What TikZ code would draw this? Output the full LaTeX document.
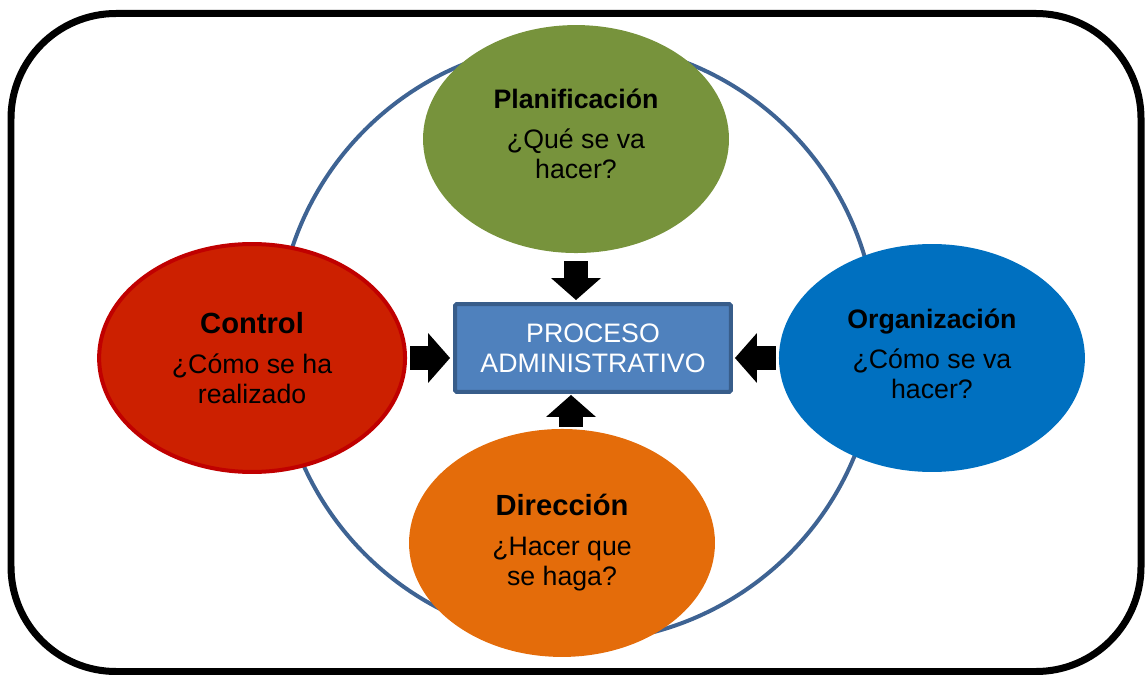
\documentclass[tikz,border=0pt]{standalone}
\usepackage{fontspec}
\setmainfont{Liberation Sans}
\usetikzlibrary{arrows.meta, positioning, shapes.geometric}
\definecolor{planGreen}{HTML}{77933C}
\definecolor{ctrlRed}{HTML}{CC2000}
\definecolor{ctrlBorder}{HTML}{C00000}
\definecolor{orgBlue}{HTML}{0070C0}
\definecolor{dirOrange}{HTML}{E46C0A}
\definecolor{procFill}{HTML}{4F81BD}
\definecolor{procBorder}{HTML}{385D8A}
\definecolor{ringBlue}{HTML}{3E6393}
\newcommand{\bigtitle}[1]{{\fontsize{16.6}{17}\selectfont\textbf{#1}}}
\tikzset{
        every node/.style={font=\fontsize{15.2}{17}\selectfont, align=center}, % same text size everywhere
        phase/.style={ellipse, minimum width=6.12cm, minimum height=4.56cm, inner sep=0pt}, % the four stages
        procbox/.style={draw=procBorder, fill=procFill, line width=0.08cm, text=white,
                        minimum width=5.52cm, minimum height=1.76cm, rounded corners=1pt},
        blockarrow/.style={black, line width=0.48cm,
                        -{Triangle[width=1.0cm, length=0.44cm, line width=0pt]}}, % fat black arrows
        ring/.style={draw=ringBlue, line width=0.08cm},
        frame/.style={draw=black, line width=0.14cm, rounded corners=2.1cm},
    }
\begin{document}
\begin{tikzpicture}[x=0.02cm, y=-0.02cm]
    \useasboundingbox (0,0) rectangle (1145,675);
    \draw[frame] (11,13.5) rectangle (1141,671.5);
    \coordinate (hub) at (577,342);
    \draw[ring] (hub) circle[radius=6cm];

    \node[procbox] (proc) at (593,348) {PROCESO\\ADMINISTRATIVO};
    \node[phase, fill=planGreen, text depth=0.2cm, node distance=4.18cm, above of=proc, xshift=-0.34cm] (plan)
        {\textbf{Planificación}\\[5.8pt]¿Qué se va\\hacer?};
    \node[phase, fill=ctrlRed, draw=ctrlBorder, line width=0.08cm,
          node distance=6.82cm, left of=proc, yshift=-0.2cm] (ctrl)
        {\bigtitle{Control}\\[5.8pt]¿Cómo se ha\\realizado};
    \node[phase, fill=orgBlue, text depth=0.16cm, node distance=6.78cm, right of=proc, yshift=-0.2cm] (org)
        {\textbf{Organización}\\[5.8pt]¿Cómo se va\\hacer?};
    \node[phase, fill=dirOrange, node distance=3.9cm, below of=proc, xshift=-0.62cm] (dir)
        {\bigtitle{Dirección}\\[5.8pt]¿Hacer que\\se haga?};

    \draw[blockarrow, shorten <=0.16cm, shorten >=0.04cm] (plan.south) -- (plan.south |- proc.north);
    \draw[blockarrow, shorten <=0.06cm, shorten >=0.06cm] (ctrl.east) -- (ctrl.east -| proc.west);
    \draw[blockarrow, shorten <=0.06cm, shorten >=0.04cm] (org.west) -- (org.west -| proc.east);
    \draw[blockarrow, shorten <=0.04cm, shorten >=0.02cm]
      ([xshift=0.18cm]dir.north) -- ([xshift=0.18cm]dir.north |- proc.south);
\end{tikzpicture}
\end{document}
